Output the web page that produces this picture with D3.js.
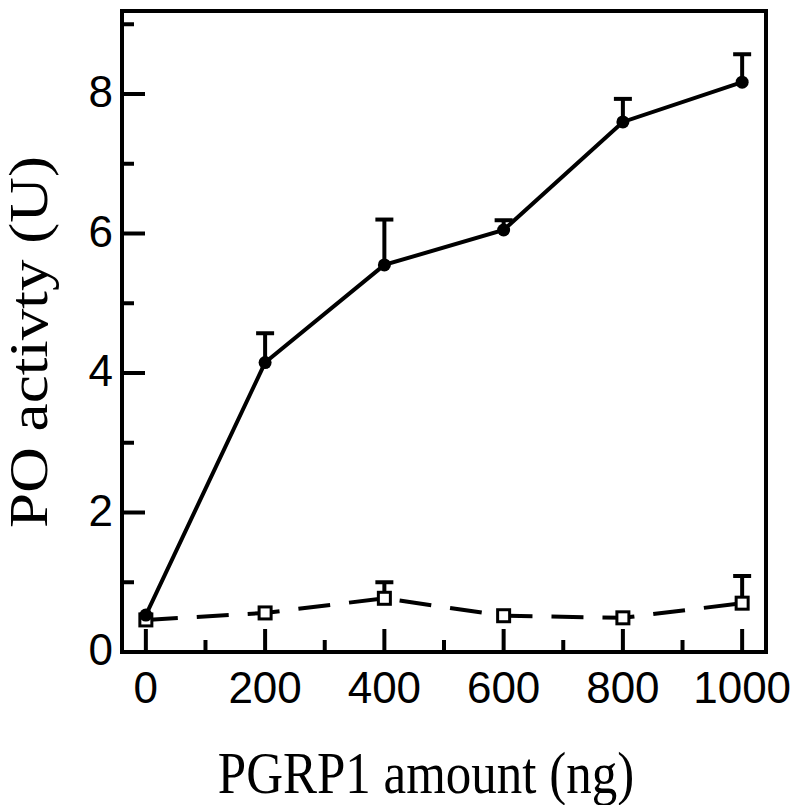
<!DOCTYPE html>
<html>
<head>
<meta charset="utf-8">
<script src="https://cdn.jsdelivr.net/npm/d3@7"></script>
<style>
	body { margin: 0; background: #fff; }
	svg { display: block; }
</style>
</head>
<body>
<svg></svg>
<script>
const doses = [0, 200, 400, 600, 800, 1000];
// PGRP1 + (filled circles, solid line)
const withPgrp = [0.53, 4.15, 5.55, 6.05, 7.6, 8.17];
const withPgrpErr = [0, 0.42, 0.65, 0.14, 0.33, 0.4];
// control (open squares, dashed line)
const control = [0.46, 0.56, 0.77, 0.52, 0.49, 0.7];
const controlErr = [0, 0, 0.23, 0, 0, 0.39];
const xTicks = [0, 200, 400, 600, 800, 1000];
const xMinor = [100, 300, 500, 700, 900];
const yTicks = [0, 2, 4, 6, 8];
const yMinor = [1, 3, 5, 7, 9];

const size = { w: 800, h: 805 };
const plot = { l: 122, r: 766, t: 11, b: 652 };
const svg = d3.select("svg").attr("width", size.w).attr("height", size.h);

const x = d3.scaleLinear().domain([-40, 1040]).range([plot.l, plot.r]);
const y = d3.scaleLinear().domain([0, 9.19]).range([plot.b, plot.t]);

// inward ticks
const axisG = svg.append("g").attr("stroke", "#000").attr("stroke-width", 4);
axisG.selectAll(".xmaj").data(xTicks).join("line")
	.attr("x1", (d) => x(d)).attr("x2", (d) => x(d))
	.attr("y1", plot.b).attr("y2", plot.b - 23);
axisG.selectAll(".xmin").data(xMinor).join("line")
	.attr("x1", (d) => x(d)).attr("x2", (d) => x(d))
	.attr("y1", plot.b).attr("y2", plot.b - 12);
axisG.selectAll(".ymaj").data(yTicks).join("line")
	.attr("y1", (d) => y(d)).attr("y2", (d) => y(d))
	.attr("x1", plot.l).attr("x2", plot.l + 23);
axisG.selectAll(".ymin").data(yMinor).join("line")
	.attr("y1", (d) => y(d)).attr("y2", (d) => y(d))
	.attr("x1", plot.l).attr("x2", plot.l + 12);

svg.append("rect")
	.attr("x", plot.l).attr("y", plot.t)
	.attr("width", plot.r - plot.l).attr("height", plot.b - plot.t)
	.attr("fill", "none").attr("stroke", "#000").attr("stroke-width", 4);

// tick labels
const labelFont = "'Liberation Sans', Arial, sans-serif";
svg.append("g").selectAll("text").data(xTicks).join("text")
	.attr("x", (d) => x(d)).attr("y", 703)
	.attr("text-anchor", "middle")
	.attr("font-family", labelFont).attr("font-size", 44)
	.text((d) => d);
svg.append("g").selectAll("text").data(yTicks).join("text")
	.attr("x", 113).attr("y", (d) => y(d) + 13)
	.attr("text-anchor", "end")
	.attr("font-family", labelFont).attr("font-size", 44)
	.text((d) => d);

// axis titles (the source glyphs are a little stretched)
const titleFont = "'Liberation Serif', 'Times New Roman', serif";
svg.append("text")
	.attr("transform", "translate(426,793) scale(1,1.15)")
	.attr("text-anchor", "middle")
	.attr("font-family", titleFont).attr("font-size", 51)
	.text("PGRP1 amount (ng)");
svg.append("text")
	.attr("transform", "translate(47,342) rotate(-90) scale(1.17,1)")
	.attr("text-anchor", "middle")
	.attr("font-family", titleFont).attr("font-size", 54)
	.text("PO activty (U)");

// series
const line = d3.line().x((d) => x(d[0])).y((d) => y(d[1]));

function errorBars(vals, errs) {
	const g = svg.append("g").attr("stroke", "#000").attr("stroke-width", 4);
	const data = doses.map((d, i) => ({ x: d, v: vals[i], e: errs[i] })).filter((d) => d.e > 0);
	g.selectAll(".stem").data(data).join("line")
		.attr("x1", (d) => x(d.x)).attr("x2", (d) => x(d.x))
		.attr("y1", (d) => y(d.v)).attr("y2", (d) => y(d.v + d.e));
	g.selectAll(".cap").data(data).join("line")
		.attr("x1", (d) => x(d.x) - 9).attr("x2", (d) => x(d.x) + 9)
		.attr("y1", (d) => y(d.v + d.e)).attr("y2", (d) => y(d.v + d.e));
}

// control first (drawn underneath)
errorBars(control, controlErr);
svg.append("path")
	.datum(doses.map((d, i) => [d, control[i]]))
	.attr("d", line)
	.attr("fill", "none").attr("stroke", "#000").attr("stroke-width", 4)
	.attr("stroke-dasharray", "32,19");
svg.append("g").selectAll("rect").data(doses).join("rect")
	.attr("x", (d) => x(d) - 6).attr("y", (d, i) => y(control[i]) - 6)
	.attr("width", 12).attr("height", 12)
	.attr("fill", "#fff").attr("stroke", "#000").attr("stroke-width", 3);

errorBars(withPgrp, withPgrpErr);
svg.append("path")
	.datum(doses.map((d, i) => [d, withPgrp[i]]))
	.attr("d", line)
	.attr("fill", "none").attr("stroke", "#000").attr("stroke-width", 4);
svg.append("g").selectAll("circle").data(doses).join("circle")
	.attr("cx", (d) => x(d)).attr("cy", (d, i) => y(withPgrp[i]))
	.attr("r", 6.5).attr("fill", "#000");
</script>
</body>
</html>
